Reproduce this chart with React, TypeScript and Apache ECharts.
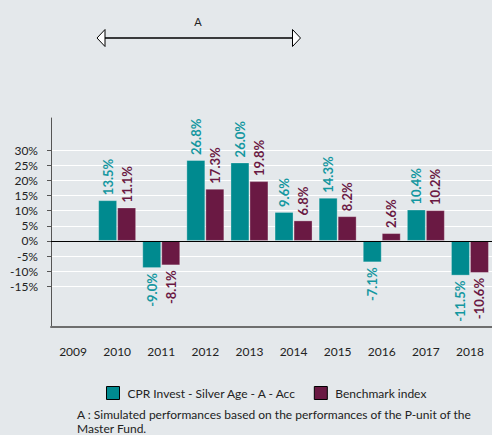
import React, { useEffect, useRef } from "react";
import * as echarts from "echarts";

const years = ["2009", "2010", "2011", "2012", "2013", "2014", "2015", "2016", "2017", "2018"];
const fundValues: (number | null)[] = [null, 13.5, -9.0, 26.8, 26.0, 9.6, 14.3, -7.1, 10.4, -11.5];
const benchValues: (number | null)[] = [null, 11.1, -8.1, 17.3, 19.8, 6.8, 8.2, 2.6, 10.2, -10.6];
const yTickValues = [-15, -10, -5, 0, 5, 10, 15, 20, 25, 30];
const seriesNames = ["CPR Invest - Silver Age - A - Acc", "Benchmark index"];
const footnoteLines = [
  "A : Simulated performances based on the performances of the P-unit of the",
  "Master Fund.",
];

const FONT = "Lato, 'Open Sans', sans-serif";
const TEAL = "#008a8f";
const TEAL_LABEL = "#1497a0";
const MAROON = "#6a1943";

function buildData(values: (number | null)[]) {
  return values.map((v) => {
    if (v === null) return null;
    if (v < 0) {
      return {
        value: v,
        label: { position: "bottom", align: "right" },
      };
    }
    return { value: v, label: { position: "top", align: "left" } };
  });
}

export default function App() {
  const ref = useRef<HTMLDivElement>(null);
  useEffect(() => {
    document.body.style.margin = "0";
    const chart = echarts.init(ref.current!, null, { renderer: "svg" });
    const labelBase = (color: string) => ({
      show: true,
      rotate: 90,
      verticalAlign: "middle",
      distance: 5,
      color,
      fontFamily: FONT,
      fontSize: 13,
      fontWeight: "bold",
      formatter: (p: any) => p.value.toFixed(1) + "%",
    });
    chart.setOption({
      animation: false,
      backgroundColor: "#e4e8eb",
      textStyle: { fontFamily: FONT },
      grid: { left: 51, right: -7, top: 118, bottom: 108, containLabel: false },
      legend: {
        left: 106,
        top: 386,
        padding: 0,
        itemWidth: 13,
        itemHeight: 13,
        itemGap: 17,
        icon: "rect",
        itemStyle: { borderColor: "#000", borderWidth: 1 },
        textStyle: { fontFamily: FONT, fontSize: 12, color: "#222", padding: [0, 0, 0, 3] },
        data: seriesNames,
      },
      xAxis: {
        type: "category",
        data: years,
        axisLine: { onZero: false, lineStyle: { color: "#6e6e6e", width: 2 } },
        axisTick: { show: false },
        axisLabel: { color: "#222", fontSize: 12, fontFamily: FONT, margin: 18 },
        splitLine: { show: false },
      },
      yAxis: {
        type: "value",
        min: -28.5,
        max: 40.7,
        axisLine: { show: true, lineStyle: { color: "#555", width: 1 } },
        axisTick: { show: true, length: 4, customValues: yTickValues, lineStyle: { color: "#555" } },
        axisLabel: {
          customValues: yTickValues,
          formatter: (v: number) => v + "%",
          color: "#222",
          fontSize: 12,
          fontFamily: FONT,
          margin: 13,
        },
        splitLine: { show: true, lineStyle: { color: "#ffffff", width: 1 } },
      },
      series: [
        {
          name: seriesNames[0],
          type: "bar",
          barWidth: 19,
          barGap: "0%",
          data: buildData(fundValues),
          itemStyle: { color: TEAL, borderColor: "rgba(255,255,255,0.3)", borderWidth: 1 },
          label: labelBase(TEAL_LABEL),
          markLine: {
            silent: true,
            symbol: "none",
            label: { show: false },
            lineStyle: { color: "#000", width: 1, type: "solid" },
            data: [{ yAxis: 0 }],
          },
        },
        {
          name: seriesNames[1],
          type: "bar",
          barWidth: 19,
          barGap: "0%",
          data: buildData(benchValues),
          itemStyle: { color: MAROON, borderColor: "rgba(255,255,255,0.3)", borderWidth: 1 },
          label: labelBase(MAROON),
        },
      ],
      graphic: [
        {
          type: "text",
          x: 77,
          y: 414,
          style: { text: footnoteLines[0], fontFamily: FONT, fontSize: 12, fill: "#222", verticalAlign: "middle" },
        },
        {
          type: "text",
          x: 77,
          y: 428,
          style: { text: footnoteLines[1], fontFamily: FONT, fontSize: 12, fill: "#222", verticalAlign: "middle" },
        },
        {
          type: "text",
          x: 198,
          y: 21,
          style: { text: "A", fontFamily: FONT, fontSize: 11, fill: "#222", align: "center", verticalAlign: "middle" },
        },
        {
          type: "line",
          shape: { x1: 105, y1: 38, x2: 292, y2: 38 },
          style: { stroke: "#000", lineWidth: 1.5 },
        },
        {
          type: "polygon",
          shape: { points: [[97, 38], [105, 29.5], [105, 46.5]] },
          style: { fill: "#fff", stroke: "#000", lineWidth: 1 },
        },
        {
          type: "polygon",
          shape: { points: [[300.5, 38], [292.5, 29.5], [292.5, 46.5]] },
          style: { fill: "#fff", stroke: "#000", lineWidth: 1 },
        },
      ],
    });
    return () => chart.dispose();
  }, []);
  return (
    <div
      ref={ref}
      style={{ position: "fixed", left: 0, top: 0, width: 492, height: 435 }}
    />
  );
}
